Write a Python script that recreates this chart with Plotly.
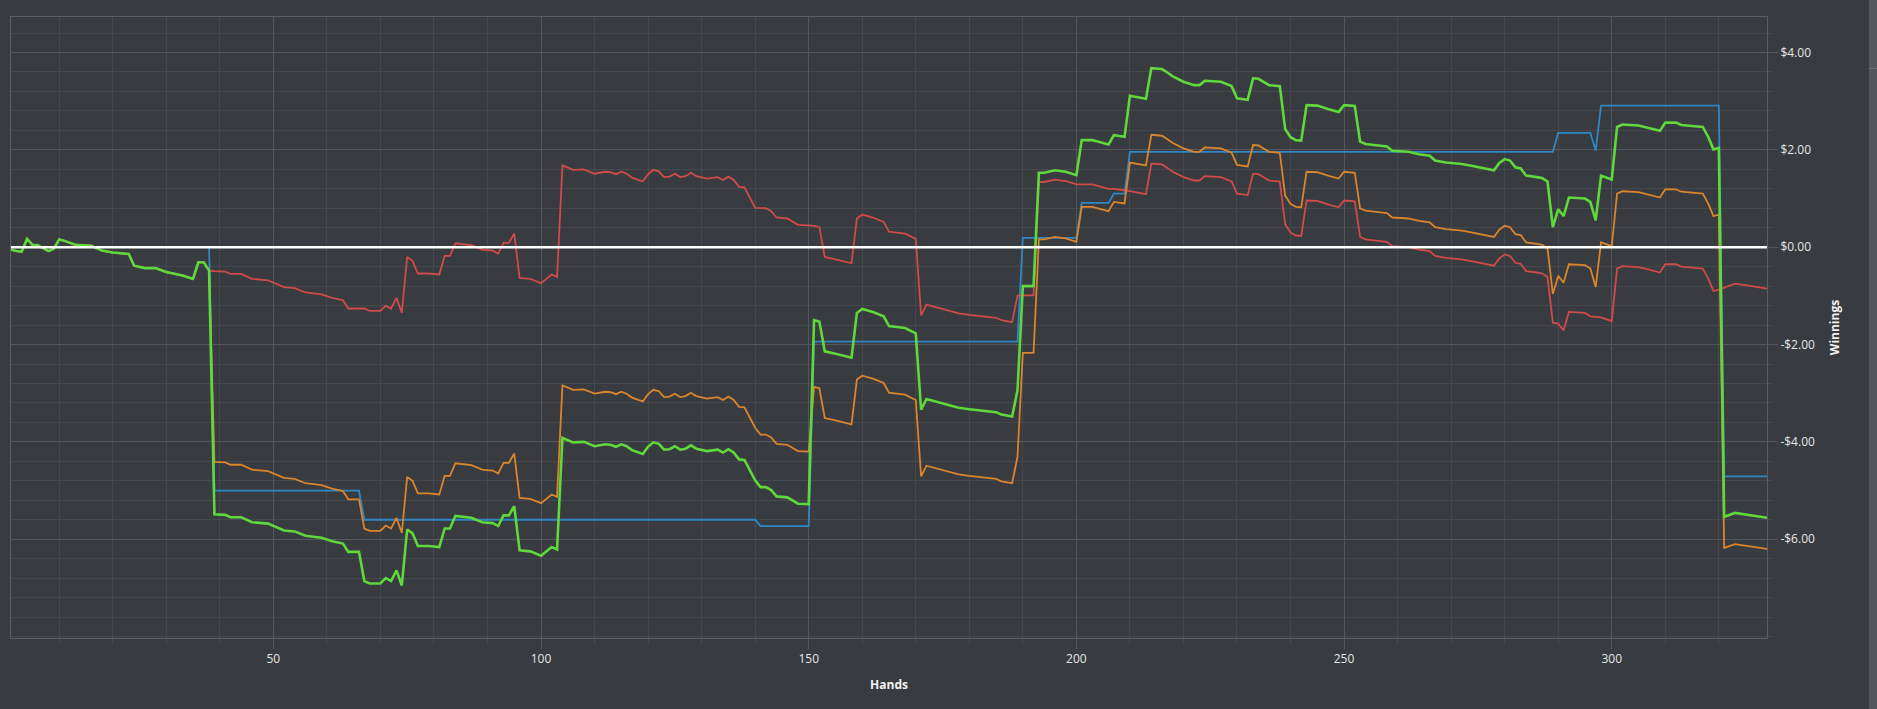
import plotly.graph_objects as go

# hand numbers where the lines change direction (net won, all-in adj, non-showdown share them)
hands = [
    1, 2, 3, 4, 5, 6, 8, 9, 10, 11, 13, 16, 18, 20, 23, 24, 26, 28, 30, 33, 35, 36, 37, 38,
    39, 41, 42, 44, 46, 49, 52, 54, 56, 59, 61, 63, 64, 66,
    67, 68, 70, 71, 72, 73, 74, 75, 76, 77, 79, 81, 82, 83, 84, 87, 89, 91, 92, 93,
    94, 95, 96, 98, 100, 102, 103, 104, 106, 108, 110, 112, 113, 114, 115, 116, 117, 119, 120, 121,
    122, 123, 124, 125, 126, 127, 128, 129, 131, 133, 134, 135, 136, 137, 138, 140,
    141, 142, 143, 144, 146, 148, 150,
    151, 152, 153, 155, 157, 158, 159, 160, 162, 164, 165, 167, 168, 170, 171, 172, 174, 175, 178, 180,
    182, 185, 186, 187, 188, 189,
    190, 192, 193, 194, 196, 198, 200,
    201, 203, 204, 206,
    207, 208, 209,
    210, 212, 213, 214, 216, 217, 218, 220, 222, 223, 224, 227, 229, 230, 232, 233, 234, 236, 238, 239,
    240, 241, 242, 243, 245, 247, 249, 250, 252, 253, 254, 258, 259, 262, 264, 266, 267, 269, 271, 272,
    274, 276, 278, 279, 280, 281, 282, 283, 284, 286, 287, 288, 289,
    290, 291, 292, 295, 296,
    297,
    298, 300, 301, 302, 305, 307, 309, 310, 312, 313, 315, 317, 318, 319, 320,
    321, 323, 325, 327, 329,
]

net_won = [
    -0.05, -0.08, -0.09, 0.17, 0.05, 0.04, -0.08, -0.03, 0.16, 0.13, 0.05, 0.03, -0.07, -0.11, -0.14, -0.38, -0.43, -0.43, -0.51, -0.58, -0.65, -0.31, -0.31, -0.48,
    -5.49, -5.50, -5.55, -5.55, -5.65, -5.68, -5.82, -5.84, -5.93, -5.97, -6.04, -6.09, -6.26, -6.26,
    -6.86, -6.91, -6.91, -6.80, -6.86, -6.64, -6.95, -5.80, -5.88, -6.14, -6.14, -6.16, -5.78, -5.78, -5.52, -5.56, -5.65, -5.67, -5.73, -5.51,
    -5.51, -5.32, -6.23, -6.25, -6.34, -6.16, -6.21, -3.92, -4.01, -4.00, -4.09, -4.05, -4.06, -4.10, -4.05, -4.09, -4.17, -4.25, -4.10, -4.01,
    -4.04, -4.16, -4.15, -4.09, -4.16, -4.14, -4.07, -4.14, -4.19, -4.16, -4.22, -4.15, -4.22, -4.36, -4.37, -4.79,
    -4.93, -4.93, -4.99, -5.12, -5.14, -5.27, -5.28,
    -1.50, -1.53, -2.14, -2.19, -2.24, -2.27, -1.35, -1.27, -1.33, -1.42, -1.62, -1.64, -1.66, -1.77, -3.34, -3.12, -3.18, -3.20, -3.30, -3.33,
    -3.36, -3.39, -3.44, -3.46, -3.48, -2.94,
    -0.80, -0.80, 1.53, 1.53, 1.58, 1.55, 1.48,
    2.20, 2.20, 2.17, 2.11,
    2.30, 2.29, 2.27,
    3.11, 3.06, 3.05, 3.68, 3.66, 3.59, 3.51, 3.40, 3.33, 3.33, 3.42, 3.40, 3.31, 3.06, 3.03, 3.47, 3.46, 3.33, 3.31, 2.43,
    2.26, 2.20, 2.19, 2.92, 2.91, 2.84, 2.78, 2.92, 2.90, 2.17, 2.12, 2.07, 1.98, 1.96, 1.91, 1.88, 1.78, 1.74, 1.73, 1.71,
    1.67, 1.62, 1.58, 1.73, 1.81, 1.78, 1.64, 1.62, 1.47, 1.44, 1.42, 1.35, 0.41,
    0.78, 0.64, 1.02, 1.00, 0.93,
    0.55,
    1.47, 1.39, 2.47, 2.52, 2.50, 2.45, 2.39, 2.56, 2.56, 2.51, 2.49, 2.47, 2.27, 2.01, 2.04,
    -5.54, -5.46, -5.49, -5.53, -5.56,
]

allin_adj = [
    -0.05, -0.08, -0.09, 0.17, 0.05, 0.04, -0.08, -0.03, 0.16, 0.13, 0.05, 0.03, -0.07, -0.11, -0.14, -0.38, -0.43, -0.43, -0.51, -0.58, -0.65, -0.31, -0.31, -0.48,
    -4.41, -4.42, -4.47, -4.47, -4.57, -4.60, -4.74, -4.76, -4.85, -4.89, -4.96, -5.01, -5.18, -5.18,
    -5.78, -5.83, -5.83, -5.72, -5.78, -5.56, -5.87, -4.72, -4.80, -5.06, -5.06, -5.08, -4.70, -4.70, -4.44, -4.48, -4.57, -4.59, -4.65, -4.43,
    -4.43, -4.24, -5.15, -5.17, -5.26, -5.08, -5.13, -2.84, -2.93, -2.92, -3.01, -2.97, -2.98, -3.02, -2.97, -3.01, -3.09, -3.17, -3.02, -2.93,
    -2.96, -3.08, -3.07, -3.01, -3.08, -3.06, -2.99, -3.06, -3.11, -3.08, -3.14, -3.07, -3.14, -3.28, -3.29, -3.71,
    -3.85, -3.85, -3.91, -4.04, -4.06, -4.19, -4.20,
    -2.87, -2.90, -3.51, -3.56, -3.61, -3.64, -2.72, -2.64, -2.70, -2.79, -2.99, -3.01, -3.03, -3.14, -4.71, -4.49, -4.55, -4.57, -4.67, -4.70,
    -4.73, -4.76, -4.81, -4.83, -4.85, -4.31,
    -2.17, -2.17, 0.16, 0.16, 0.21, 0.18, 0.11,
    0.83, 0.83, 0.80, 0.74,
    0.93, 0.92, 0.90,
    1.74, 1.69, 1.68, 2.31, 2.29, 2.22, 2.14, 2.03, 1.96, 1.96, 2.05, 2.03, 1.94, 1.69, 1.66, 2.10, 2.09, 1.96, 1.94, 1.06,
    0.89, 0.83, 0.82, 1.55, 1.54, 1.47, 1.41, 1.55, 1.53, 0.80, 0.75, 0.70, 0.61, 0.59, 0.54, 0.51, 0.41, 0.37, 0.36, 0.34,
    0.30, 0.25, 0.21, 0.36, 0.44, 0.41, 0.27, 0.25, 0.10, 0.07, 0.05, -0.02, -0.96,
    -0.59, -0.73, -0.35, -0.37, -0.44,
    -0.82,
    0.10, 0.02, 1.10, 1.15, 1.13, 1.08, 1.02, 1.19, 1.19, 1.14, 1.12, 1.10, 0.90, 0.64, 0.67,
    -6.18, -6.10, -6.13, -6.17, -6.20,
]

non_showdown = [
    -0.05, -0.08, -0.09, 0.17, 0.05, 0.04, -0.08, -0.03, 0.16, 0.13, 0.05, 0.03, -0.07, -0.11, -0.14, -0.38, -0.43, -0.43, -0.51, -0.58, -0.65, -0.31, -0.31, -0.48,
    -0.49, -0.50, -0.55, -0.55, -0.65, -0.68, -0.82, -0.84, -0.93, -0.97, -1.04, -1.09, -1.26, -1.26,
    -1.26, -1.31, -1.31, -1.20, -1.26, -1.04, -1.35, -0.20, -0.28, -0.54, -0.54, -0.56, -0.18, -0.18, 0.08, 0.04, -0.05, -0.07, -0.13, 0.09,
    0.09, 0.28, -0.63, -0.65, -0.74, -0.56, -0.61, 1.68, 1.59, 1.60, 1.51, 1.55, 1.54, 1.50, 1.55, 1.51, 1.43, 1.35, 1.50, 1.59,
    1.56, 1.44, 1.45, 1.51, 1.44, 1.46, 1.53, 1.46, 1.41, 1.44, 1.38, 1.45, 1.38, 1.24, 1.23, 0.81,
    0.80, 0.80, 0.74, 0.61, 0.59, 0.46, 0.45,
    0.44, 0.41, -0.20, -0.25, -0.30, -0.33, 0.59, 0.67, 0.61, 0.52, 0.32, 0.30, 0.28, 0.17, -1.40, -1.18, -1.24, -1.26, -1.36, -1.39,
    -1.42, -1.45, -1.50, -1.52, -1.54, -1.00,
    -0.99, -0.99, 1.34, 1.34, 1.39, 1.36, 1.29,
    1.29, 1.29, 1.26, 1.20,
    1.20, 1.19, 1.17,
    1.15, 1.10, 1.09, 1.72, 1.70, 1.63, 1.55, 1.44, 1.37, 1.37, 1.46, 1.44, 1.35, 1.10, 1.07, 1.51, 1.50, 1.37, 1.35, 0.47,
    0.30, 0.24, 0.23, 0.96, 0.95, 0.88, 0.82, 0.96, 0.94, 0.21, 0.16, 0.11, 0.02, 0.00, -0.05, -0.08, -0.18, -0.22, -0.23, -0.25,
    -0.29, -0.34, -0.38, -0.23, -0.15, -0.18, -0.32, -0.34, -0.49, -0.52, -0.54, -0.61, -1.55,
    -1.57, -1.71, -1.33, -1.35, -1.42,
    -1.43,
    -1.44, -1.52, -0.44, -0.39, -0.41, -0.46, -0.52, -0.35, -0.35, -0.40, -0.42, -0.44, -0.64, -0.90, -0.87,
    -0.83, -0.75, -0.78, -0.82, -0.85,
]

# showdown winnings only move in steps
showdown_hands = [1, 38, 39, 66, 67, 140, 141, 150, 151, 189, 190, 200, 201, 206, 207, 209,
                  210, 289, 290, 296, 297, 298, 320, 321, 329]
showdown = [0.00, 0.00, -5.00, -5.00, -5.60, -5.60, -5.73, -5.73, -1.94, -1.94, 0.19, 0.19, 0.91, 0.91, 1.10, 1.10,
            1.96, 1.96, 2.35, 2.35, 1.98, 2.91, 2.91, -4.71, -4.71]

x_ticks = [50, 100, 150, 200, 250, 300]
y_ticks = [-6, -4, -2, 0, 2, 4]
y_tick_text = ['-$6.00', '-$4.00', '-$2.00', '$0.00', '$2.00', '$4.00']

BG = '#383b3f'
GRID = '#54575b'
GRID_MINOR = '#45484c'
LINE = '#5b5e62'

fig = go.Figure()
fig.add_scatter(x=showdown_hands, y=showdown, mode='lines', name='Showdown',
                line=dict(color='#2f88c5', width=1.8))
fig.add_scatter(x=hands, y=non_showdown, mode='lines', name='Non-showdown',
                line=dict(color='#cf4a4a', width=1.8))
fig.add_scatter(x=hands, y=allin_adj, mode='lines', name='All-in adj',
                line=dict(color='#da852c', width=1.8))
fig.add_scatter(x=hands, y=net_won, mode='lines', name='Net won',
                line=dict(color='#5ed83b', width=2.6))

fig.update_layout(
    width=1877, height=709,
    margin=dict(l=11, r=110, t=17, b=71),
    paper_bgcolor=BG, plot_bgcolor=BG,
    showlegend=False,
    font=dict(family='Open Sans', size=12, color='#e6e6e6'),
)

fig.update_xaxes(
    range=[1, 329], tickmode='array', tickvals=x_ticks,
    ticks='outside', ticklen=10, tickcolor=GRID,
    showgrid=True, gridcolor=GRID, gridwidth=1,
    showline=True, linecolor=LINE, mirror=True, zeroline=False,
    minor=dict(dtick=10, tick0=0, ticks='outside', ticklen=5, tickcolor=GRID_MINOR,
               showgrid=True, gridcolor=GRID_MINOR),
    title=dict(text='<b>Hands</b>', font=dict(size=12, color='#f2f2f2'), standoff=14),
)

fig.update_yaxes(
    side='right', range=[-8.03, 4.73], tickmode='array', tickvals=y_ticks, ticktext=y_tick_text,
    ticks='outside', ticklen=10, tickcolor=GRID,
    showgrid=True, gridcolor=GRID, gridwidth=1,
    showline=True, linecolor=LINE, mirror=True, zeroline=False,
    minor=dict(dtick=0.4, tick0=0, ticks='outside', ticklen=5, tickcolor=GRID_MINOR,
               showgrid=True, gridcolor=GRID_MINOR),
    title=dict(text='<b>Winnings</b>', font=dict(size=12, color='#f2f2f2'), standoff=16),
)

# white break-even line drawn over the series
fig.add_shape(type='line', xref='paper', x0=0, x1=1, yref='y', y0=0, y1=0,
              line=dict(color='white', width=2.5), layer='above')

# page body margin off so the dark figure fills the window, plus the grey scrollbar strip on the right
page_js = ("document.body.style.margin='0';"
           "document.body.style.overflow='hidden';"
           "document.body.style.background='#383b3f';"
           "var sb=document.createElement('div');"
           "sb.style.cssText='position:fixed;top:0;right:0;width:8px;height:100%;"
           "background:#53565a;border-top:68px solid #55585c;box-sizing:border-box;"
           "box-shadow:inset 0 69px 0 -68px #686b6f;z-index:10;';"
           "document.body.appendChild(sb);")

fig.write_html('out.html', post_script=page_js, config={'displayModeBar': False})
